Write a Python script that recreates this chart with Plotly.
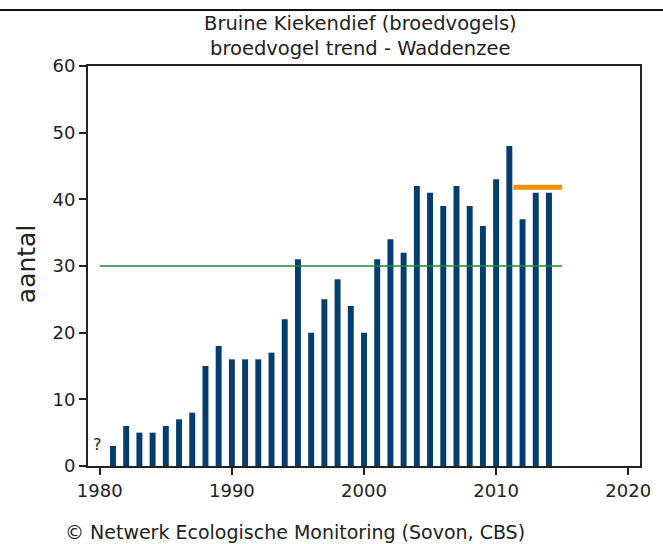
import plotly.graph_objects as go

# Breeding pairs per year
years = list(range(1981, 2015))
counts = [3, 6, 5, 5, 6, 7, 8, 15, 18, 16, 16, 16, 17, 22, 31, 20, 25, 28, 24, 20,
          31, 34, 32, 42, 41, 39, 42, 39, 36, 43, 48, 37, 41, 41]

# Reference levels
ref_years = [1980, 2015]
ref_level = [30, 30]
recent_years = [2011.3, 2015]
recent_level = [41.8, 41.8]

x_ticks = [1980, 1990, 2000, 2010, 2020]
y_ticks = [0, 10, 20, 30, 40, 50, 60]

FONT = "DejaVu Sans"
INK = "#222"
BAR = "#053e6e"

fig = go.Figure()
fig.add_trace(go.Bar(x=years, y=counts, width=0.45, marker=dict(color=BAR, line=dict(width=0)),
                     hoverinfo="x+y"))
fig.add_trace(go.Scatter(x=ref_years, y=ref_level, mode="lines",
                         line=dict(color="#1e8a3c", width=1.5), hoverinfo="skip"))
fig.add_trace(go.Scatter(x=recent_years, y=recent_level, mode="lines",
                         line=dict(color="#f39200", width=5), hoverinfo="skip"))

axis_common = dict(ticks="outside", ticklen=7, tickwidth=1.5, tickcolor=INK,
                   showline=True, linecolor=INK, linewidth=2, mirror=True,
                   showgrid=False, zeroline=False,
                   tickfont=dict(family=FONT, size=18, color=INK))

fig.update_layout(
    width=663, height=544,
    margin=dict(l=88, r=13, t=66, b=78),
    paper_bgcolor="white", plot_bgcolor="white",
    showlegend=False,
    font=dict(family=FONT, color=INK, size=16),
    xaxis=dict(range=[1979.11, 2020.89], tickvals=x_ticks, **axis_common),
    yaxis=dict(range=[0, 60], tickvals=y_ticks, **axis_common),
    shapes=[dict(type="line", xref="paper", yref="paper", x0=-0.17, x1=1.05,
                 y0=1.14, y1=1.14, line=dict(color="#111", width=2))],
    annotations=[
        dict(text="Bruine Kiekendief (broedvogels)", xref="paper", yref="paper",
             x=0.493, y=1.1075, xanchor="center", yanchor="middle", showarrow=False,
             font=dict(family=FONT, size=19.5, color=INK)),
        dict(text="broedvogel trend - Waddenzee", xref="paper", yref="paper",
             x=0.493, y=1.045, xanchor="center", yanchor="middle", showarrow=False,
             font=dict(family=FONT, size=19.5, color=INK)),
        dict(text="aantal", xref="paper", yref="paper", x=-0.112, y=0.505, textangle=-90,
             xanchor="center", yanchor="middle", showarrow=False,
             font=dict(family=FONT, size=25, color=INK)),
        dict(text="?", x=1979.85, y=3.2, xref="x", yref="y", showarrow=False,
             xanchor="center", yanchor="middle", font=dict(family=FONT, size=16, color=INK)),
        dict(text="© Netwerk Ecologische Monitoring (Sovon, CBS)", xref="paper", yref="paper",
             x=-0.046, y=-0.165, xanchor="left", yanchor="middle", showarrow=False,
             font=dict(family=FONT, size=19, color=INK)),
    ],
)

fig.write_html("out.html")
